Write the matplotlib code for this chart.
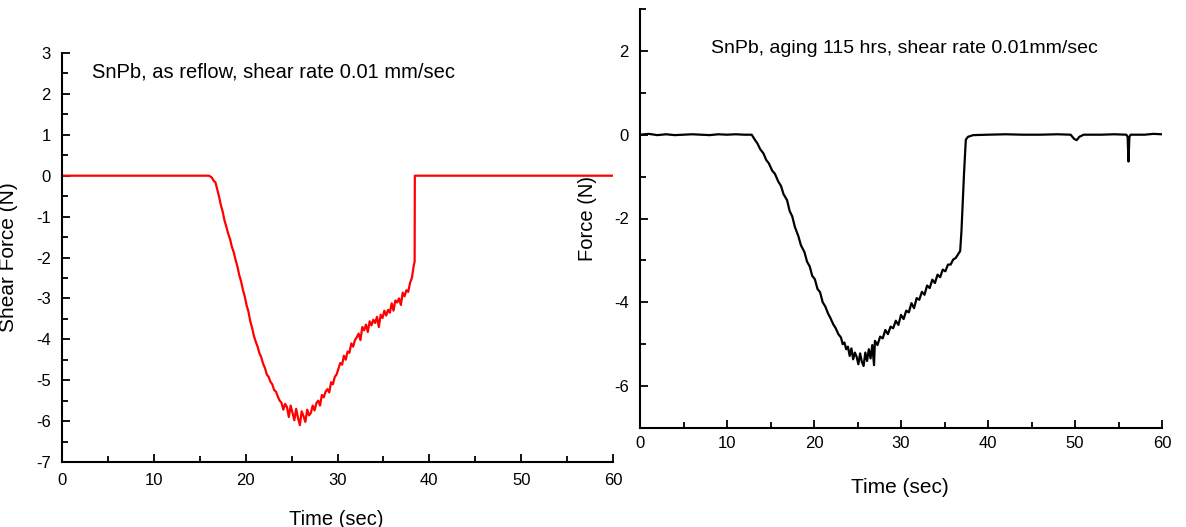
import matplotlib
matplotlib.use("Agg")
import matplotlib.pyplot as plt
from matplotlib.ticker import MultipleLocator

plt.rcParams['font.family'] = ['Liberation Sans', 'DejaVu Sans']
plt.rcParams['axes.unicode_minus'] = False

# ---- Left panel: SnPb as reflow (red) ----
time_reflow = [0, 16.0, 16.3, 16.5, 16.7, 16.9, 17.1, 17.3, 17.5, 17.7, 17.9,
               18.1, 18.3, 18.5, 18.7, 18.9, 19.1, 19.3, 19.5, 19.7, 19.9,
               20.1, 20.3, 20.5, 20.7, 20.9, 21.1, 21.3, 21.5, 21.7, 21.9,
               22.1, 22.3, 22.5, 22.7, 22.9, 23.1, 23.3, 23.5, 23.7, 23.9,
               24.1, 24.3, 24.5, 24.7, 24.9, 25.1, 25.3, 25.5, 25.7, 25.9,
               26.1, 26.3, 26.5, 26.7, 26.9, 27.1, 27.3, 27.5, 27.7, 27.9,
               28.1, 28.3, 28.5, 28.7, 28.9, 29.1, 29.3, 29.5, 29.7, 29.9,
               30.1, 30.3, 30.5, 30.7, 30.9, 31.1, 31.3, 31.5, 31.7, 31.9,
               32.1, 32.3, 32.5, 32.7, 32.9, 33.1, 33.3, 33.5, 33.7, 33.9,
               34.1, 34.3, 34.5, 34.7, 34.9, 35.1, 35.3, 35.5, 35.7, 35.9,
               36.1, 36.3, 36.5, 36.7, 36.9, 37.1, 37.3, 37.5, 37.7, 37.9,
               38.1, 38.3, 38.4, 38.42, 60]
force_reflow = [0, 0, -0.04, -0.12, -0.16, -0.33, -0.51, -0.72, -0.88, -1.10, -1.25,
                -1.42, -1.55, -1.74, -1.87, -2.06, -2.22, -2.43, -2.58, -2.79, -2.95,
                -3.17, -3.32, -3.56, -3.72, -3.92, -4.06, -4.18, -4.34, -4.44, -4.60,
                -4.70, -4.86, -4.92, -5.04, -5.10, -5.24, -5.28, -5.40, -5.50, -5.55,
                -5.72, -5.58, -5.66, -5.90, -5.62, -5.80, -5.98, -5.70, -5.92, -6.10,
                -5.76, -5.88, -6.02, -5.72, -5.86, -5.80, -5.62, -5.74, -5.56, -5.50,
                -5.62, -5.36, -5.42, -5.28, -5.22, -5.30, -5.05, -5.10, -4.92, -4.86,
                -4.72, -4.58, -4.62, -4.40, -4.50, -4.30, -4.33, -4.10, -4.18, -4.02,
                -3.95, -3.86, -4.02, -3.70, -3.78, -3.64, -3.82, -3.56, -3.66, -3.52,
                -3.60, -3.45, -3.70, -3.40, -3.48, -3.30, -3.42, -3.28, -3.35, -3.12,
                -3.30, -3.05, -3.10, -3.00, -3.16, -2.86, -2.95, -2.80, -2.84, -2.62,
                -2.50, -2.20, -2.10, 0, 0]

# ---- Right panel: SnPb aged 115 hrs (black) ----
time_aged = [0, 1.0, 2.0, 3.0, 4.0, 5.0, 6.0, 7.0, 8.0, 9.0, 10.0, 11.0, 12.0, 12.84,
             13.2, 13.5, 13.8, 14.2, 14.5, 14.8, 15.2, 15.5, 15.9, 16.2, 16.5, 16.9,
             17.2, 17.5, 17.8, 18.2, 18.5, 18.9, 19.2, 19.5, 19.8, 20.1, 20.4, 20.7,
             21.0, 21.3, 21.6, 21.9, 22.2, 22.5, 22.8, 23.1, 23.3, 23.5, 23.7, 23.9,
             24.1, 24.3, 24.5, 24.7, 24.9, 25.1, 25.3, 25.5, 25.7, 25.9, 26.1, 26.3,
             26.5, 26.7, 26.9, 27.0, 27.3, 27.6, 27.9, 28.2, 28.5, 28.8, 29.1, 29.4,
             29.7, 30.0, 30.3, 30.6, 30.9, 31.2, 31.5, 31.8, 32.1, 32.4, 32.7, 33.0,
             33.3, 33.6, 33.9, 34.2, 34.5, 34.8, 35.1, 35.4, 35.7, 36.0, 36.3, 36.6,
             36.8, 36.95, 37.1, 37.25, 37.45, 37.7, 38.3, 40, 42, 44, 46, 48, 49.5,
             49.9, 50.2, 50.5, 51, 53, 54.5, 55.9, 56.05, 56.15, 56.25, 56.4, 58.0,
             59.0, 60.0]
force_aged = [0.0, 0.02, -0.01, 0.01, -0.01, 0.0, 0.01, 0.0, -0.01, 0.01, 0.0, 0.01, 0.0, 0.0,
              -0.12, -0.21, -0.34, -0.45, -0.60, -0.68, -0.86, -0.93, -1.12, -1.22, -1.42, -1.56,
              -1.82, -1.95, -2.20, -2.42, -2.64, -2.80, -3.03, -3.14, -3.37, -3.45, -3.68, -3.76,
              -4.00, -4.10, -4.26, -4.38, -4.52, -4.62, -4.76, -4.84, -5.00, -4.96, -5.12, -5.06,
              -5.28, -5.10, -5.36, -5.20, -5.30, -5.48, -5.22, -5.42, -5.52, -5.20, -5.40, -5.12,
              -5.34, -5.02, -5.50, -4.92, -5.02, -4.82, -4.86, -4.66, -4.76, -4.58, -4.62, -4.44,
              -4.54, -4.30, -4.40, -4.20, -4.24, -4.02, -4.14, -3.90, -3.94, -3.75, -3.82, -3.60,
              -3.66, -3.46, -3.54, -3.34, -3.40, -3.22, -3.26, -3.10, -3.10, -2.98, -2.94, -2.84,
              -2.78, -2.30, -1.60, -0.90, -0.12, -0.05, -0.01, 0.0, 0.01, 0.0, 0.0, 0.01, 0.0,
              -0.10, -0.13, -0.05, 0.0, 0.0, 0.01, 0.0, -0.05, -0.64, -0.05, 0.0, 0.0,
              0.02, 0.01]

left_text = "SnPb, as reflow, shear rate 0.01 mm/sec"
right_text = "SnPb, aging 115 hrs, shear rate 0.01mm/sec"

fig = plt.figure(figsize=(11.86, 5.27), dpi=100)
W, H = 1186, 527
axL = fig.add_axes([62 / W, 1 - 462 / H, (613 - 62) / W, (462 - 53) / H])
axR = fig.add_axes([640 / W, 1 - 428 / H, (1162 - 640) / W, (428 - 9) / H])

axL.plot(time_reflow, force_reflow, color='#ff0000', lw=1.6)
axR.plot(time_aged, force_aged, color='black', lw=1.6)

for ax in (axL, axR):
    ax.set_xlim(0, 60)
    ax.set_ylim(-7, 3)
    for s in ('top', 'right'):
        ax.spines[s].set_visible(False)
    for s in ('left', 'bottom'):
        ax.spines[s].set_linewidth(1.5)
    ax.xaxis.set_major_locator(MultipleLocator(10))
    ax.xaxis.set_minor_locator(MultipleLocator(5))
    ax.tick_params(which='major', direction='in', length=6, width=1.3, labelsize=12)
    ax.tick_params(which='minor', direction='in', length=4, width=1.3)

axL.yaxis.set_major_locator(MultipleLocator(1))
axL.yaxis.set_minor_locator(MultipleLocator(0.5))
axL.tick_params(axis='both', which='major', pad=8)

axR.yaxis.set_major_locator(MultipleLocator(2))
axR.yaxis.set_minor_locator(MultipleLocator(1))
axR.tick_params(axis='y', which='major', pad=8)
axR.tick_params(axis='x', which='major', pad=6)

axL.set_xlabel("Time (sec)", fontsize=14.5)
axL.xaxis.set_label_coords(0.498, -0.117)
axL.set_ylabel("Shear Force (N)", fontsize=15)
axL.yaxis.set_label_coords(-0.08, 0.5)

axR.set_xlabel("Time (sec)", fontsize=15)
axR.xaxis.set_label_coords(0.498, -0.119)
axR.set_ylabel("Force (N)", fontsize=14.5)
axR.yaxis.set_label_coords(-0.082, 0.5)

axL.text(0.054, 0.953, left_text, transform=axL.transAxes, fontsize=14.5,
         ha='left', va='center')
axR.text(0.136, 0.905, right_text, transform=axR.transAxes, fontsize=14,
         ha='left', va='center')

fig.savefig("out.png", dpi=100)
